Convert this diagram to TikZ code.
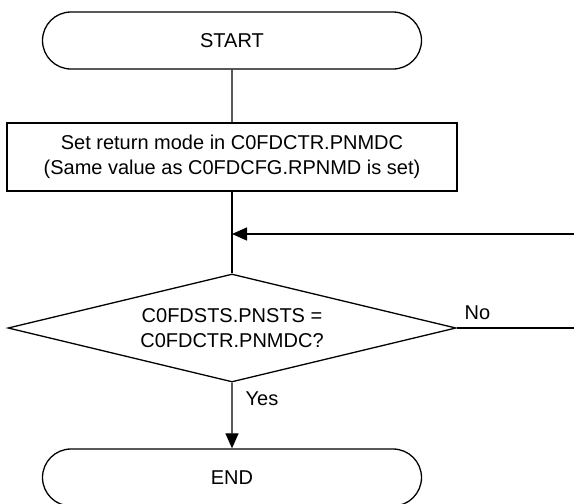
\documentclass[tikz,border=0pt]{standalone}
\usepackage{fontspec}
\setmainfont{Liberation Sans}
\usetikzlibrary{shapes.misc,shapes.geometric,arrows.meta}
\begin{document}
\begin{tikzpicture}[x=1pt,y=-1pt, line width=1.3pt,
  every node/.style={font=\fontsize{20}{25}\selectfont},
  term/.style={draw, rounded rectangle, minimum width=379pt, minimum height=57pt, inner sep=0pt},
  proc/.style={draw, rectangle, minimum width=450pt, minimum height=68pt, inner sep=0pt, align=center},
  dec/.style={draw, diamond, shape aspect=4.148, minimum width=448pt, minimum height=108pt, inner sep=0pt, align=center},
  lbl/.style={inner sep=0pt, anchor=west},
  arr/.style={-{Triangle[length=15pt,width=13pt]}}]
\useasboundingbox (0,0) rectangle (574,504);
\fill[white] (0,0) rectangle (574,504);
\clip (0,0) rectangle (574,504);
\node[term] (start) at (232,40.5) {START};
\node[proc] (set) at (232,157) {Set return mode in C0FDCTR.PNMDC\\(Same value as C0FDCFG.RPNMD is set)};
\node[dec] (chk) at (232,328) {C0FDSTS.PNSTS =\\C0FDCTR.PNMDC?};
\node[term] (end) at (232,477.5) {END};
\coordinate (loopin) at (574,234);
\coordinate (join) at (232,234);
\coordinate (noend) at (574,328);
\draw (start) -- (set);
\draw (set) -- (chk);
\draw[arr] (loopin) -- (join);
\draw (chk.east) -- (noend);
\draw[arr] (chk) -- (end);
\node[lbl] (no) at (464,313) {No};
\node[lbl] (yes) at (245,399) {Yes};
\end{tikzpicture}
\end{document}
